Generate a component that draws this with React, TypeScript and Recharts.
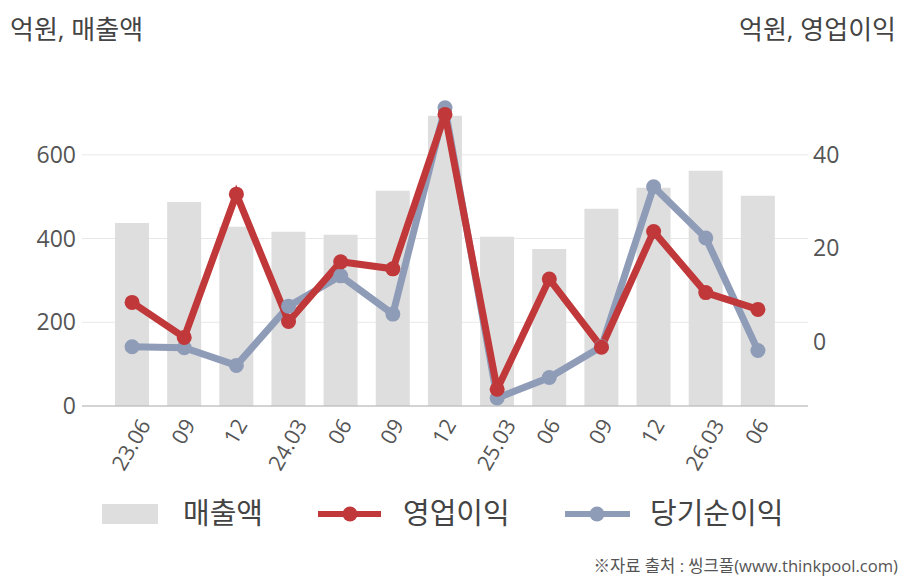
import React from 'react';
import { ComposedChart, Bar, Line, XAxis, YAxis, CartesianGrid } from 'recharts';

const periods = ['2023.06', '2023.09', '2023.12', '2024.03', '2024.06', '2024.09', '2024.12', '2025.03', '2025.06', '2025.09', '2025.12', '2026.03', '2026.06'];
const tickLabels = ['23.06', '09', '12', '24.03', '06', '09', '12', '25.03', '06', '09', '12', '26.03', '06'];
const revenue = [437, 487, 428, 416, 409, 514, 693, 404, 375, 471, 521, 562, 502];
const operatingProfit = [8.4, 0.9, 31.6, 4.3, 17.1, 15.6, 48.7, -10.2, 13.4, -1.2, 23.6, 10.5, 6.9];
const netProfit = [-1.1, -1.3, -5.1, 7.6, 14.1, 5.9, 50.1, -12.1, -7.7, -1.1, 33.2, 22.2, -1.9];
const leftTicks = [0, 200, 400, 600];
const rightTicks = [0, 20, 40];

const data = periods.map((p, i) => ({
  period: p,
  revenue: revenue[i],
  op: operatingProfit[i],
  net: netProfit[i],
}));

const FONT = "'Open Sans', 'Noto Sans CJK KR', sans-serif";
const TEXT = '#555555';
const RED = '#c0383a';
const BLUE = '#8f9cb8';
const BAR = '#dedede';

const XTick = (props: any) => {
  const { x, y, index } = props;
  const s = tickLabels[index] ?? '';
  const fs = 21.5;
  let L = 0;
  for (const ch of s) L += ch === '.' ? 0.266 * fs : 0.572 * fs;
  const h = 0.714 * fs;
  const H = L * 0.866 + h * 0.5;
  const cx = x - 1;
  const cy = y + 11 + H / 2;
  return (
    <text
      x={cx}
      y={cy}
      dy="0.36em"
      textAnchor="middle"
      fill={TEXT}
      fontSize={fs}
      fontFamily={FONT}
      transform={`rotate(-60, ${cx}, ${cy})`}
    >
      {s}
    </text>
  );
};

export default function App() {
  return (
    <div style={{ position: 'absolute', left: 0, top: 0, width: 908, height: 580, background: '#fff' }}>
      <ComposedChart
        width={908}
        height={580}
        data={data}
        margin={{ top: 92, right: 0, bottom: 144, left: 0 }}
      >
        <CartesianGrid yAxisId="left" vertical={false} stroke="#e8e8e8" syncWithTicks />
        <XAxis
          dataKey="period"
          height={30}
          padding={{ left: 24, right: 24 }}
          tickLine={false}
          tickSize={0}
          tickMargin={0}
          axisLine={{ stroke: '#b4b4b4', strokeWidth: 1.2 }}
          tick={<XTick />}
          interval={0}
        />
        <YAxis
          yAxisId="left"
          width={82}
          domain={[0, 750]}
          ticks={leftTicks}
          axisLine={false}
          tickLine={false}
          tickSize={0}
          tickMargin={6}
          tick={{ fill: TEXT, fontSize: 23, fontFamily: FONT }}
        />
        <YAxis
          yAxisId="right"
          orientation="right"
          width={100}
          domain={[-13.8, 53.5]}
          ticks={rightTicks}
          axisLine={false}
          tickLine={false}
          tickSize={0}
          tickMargin={5}
          tick={{ fill: TEXT, fontSize: 23, fontFamily: FONT, textAnchor: 'start' }}
        />
        <Bar yAxisId="left" dataKey="revenue" fill={BAR} barSize={34} isAnimationActive={false} />
        <Line
          yAxisId="right"
          type="linear"
          dataKey="net"
          stroke={BLUE}
          strokeWidth={7}
          dot={{ r: 7.5, fill: BLUE, stroke: 'none' }}
          activeDot={false}
          isAnimationActive={false}
        />
        <Line
          yAxisId="right"
          type="linear"
          dataKey="op"
          stroke={RED}
          strokeWidth={7}
          dot={{ r: 7.5, fill: RED, stroke: 'none' }}
          activeDot={false}
          isAnimationActive={false}
        />
      </ComposedChart>
      <svg
        width={908}
        height={580}
        style={{ position: 'absolute', left: 0, top: 0, pointerEvents: 'none' }}
        fontFamily={FONT}
      >
        <text x={10} y={39} fontSize={26} fill="#444">억원, 매출액</text>
        <text x={896} y={39} fontSize={26} fill="#444" textAnchor="end">억원, 영업이익</text>

        <rect x={102} y={504} width={56} height={20} fill={BAR} />
        <text x={183} y={524} fontSize={29} fill="#444">매출액</text>

        <line x1={318} y1={514} x2={381} y2={514} stroke={RED} strokeWidth={6} />
        <circle cx={350} cy={514} r={7.5} fill={RED} />
        <text x={403} y={524} fontSize={29} fill="#444">영업이익</text>

        <line x1={565} y1={514} x2={630} y2={514} stroke={BLUE} strokeWidth={6} />
        <circle cx={597} cy={514} r={7.5} fill={BLUE} />
        <text x={650} y={524} fontSize={29} fill="#444">당기순이익</text>

        <text x={898} y={572} fontSize={16.6} fill={TEXT} textAnchor="end">※자료 출처 : 씽크풀(www.thinkpool.com)</text>
      </svg>
    </div>
  );
}
